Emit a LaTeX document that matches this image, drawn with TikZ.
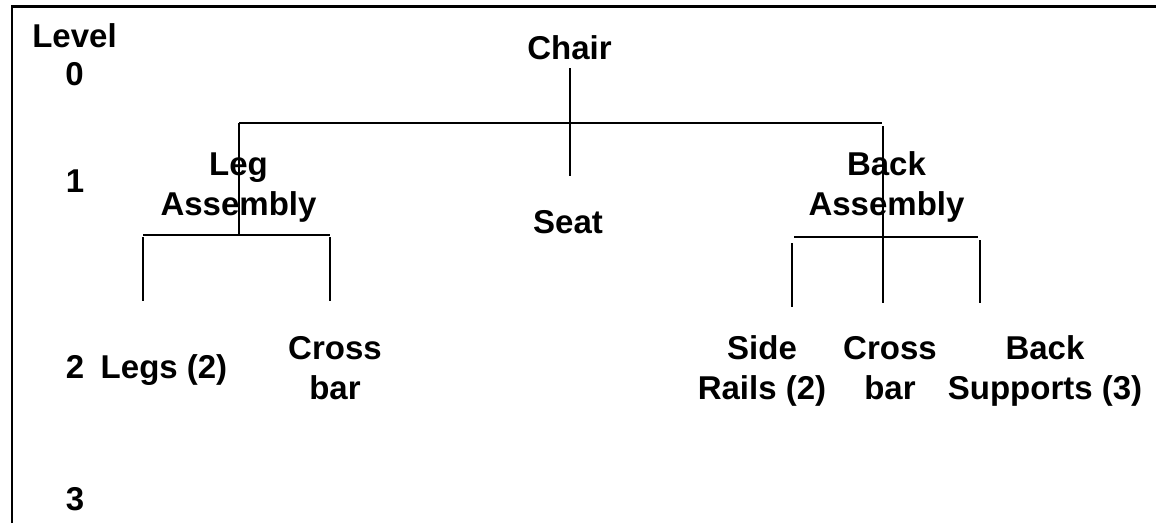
\documentclass[tikz,border=0pt]{standalone}
\usepackage{fontspec}
\setmainfont{Liberation Sans}
\begin{document}
\begin{tikzpicture}[x=1pt,y=-1pt,
  lbl/.style={font=\bfseries\fontsize{33}{40}\selectfont, inner sep=0pt, align=center, anchor=base},
  lvl/.style={font=\bfseries\fontsize{33}{38}\selectfont, inner sep=0pt, align=center, anchor=base},
  tree/.style={line width=2.3pt, black},
  frame/.style={line width=2.5pt, black}]
\useasboundingbox (0,0) rectangle (1156,523);
% frame
\coordinate (fb) at (12,523);
\coordinate (ftl) at (12,6.5);
\coordinate (ftr) at (1156,6.5);
\draw[frame] (fb) -- (ftl) -- (ftr);
% level labels
\node[lvl] (level) at (74.5,85) {Level\\0};
\node[lbl] (l1) at (75,192) {1};
\node[lbl] (l2) at (75,378) {2};
\node[lbl] (l3) at (75,510) {3};
% items
\node[lbl] (chair) at (569.5,59) {Chair};
\node[lbl] (leg) at (238.5,215) {Leg\\Assembly};
\node[lbl] (seat) at (568,233) {Seat};
\node[lbl] (back) at (886.5,215) {Back\\Assembly};
\node[lbl] (legs) at (164,378) {Legs (2)};
\node[lbl] (crossA) at (335,399) {Cross\\bar};
\node[lbl] (side) at (762,399) {Side\\Rails (2)};
\node[lbl] (crossB) at (890,399) {Cross\\bar};
\node[lbl] (supports) at (1045,399) {Back\\Supports (3)};
% tree coordinates
\coordinate (ct) at (570,68);
\coordinate (cb) at (570,176);
\coordinate (hl) at (239,123);
\coordinate (hr) at (882,123);
\coordinate (lb) at (239,235);
\coordinate (lsl) at (143,235);
\coordinate (lsr) at (330,235);
\coordinate (lat) at (143,237);
\coordinate (lab) at (143,301);
\coordinate (lbt) at (330,237);
\coordinate (lbb) at (330,301);
\coordinate (rt) at (883,126);
\coordinate (rb) at (883,303);
\coordinate (rsl) at (794,237);
\coordinate (rsr) at (978,237);
\coordinate (rat) at (792,243);
\coordinate (rab) at (792,307);
\coordinate (rbt) at (980,240);
\coordinate (rbb) at (980,303);
% tree lines
\draw[tree] (ct) -- (cb);
\draw[tree] (hl) -- (hr);
\draw[tree] (hl) -- (lb);
\draw[tree] (lsl) -- (lsr);
\draw[tree] (lat) -- (lab);
\draw[tree] (lbt) -- (lbb);
\draw[tree] (rt) -- (rb);
\draw[tree] (rsl) -- (rsr);
\draw[tree] (rat) -- (rab);
\draw[tree] (rbt) -- (rbb);
\end{tikzpicture}
\end{document}
